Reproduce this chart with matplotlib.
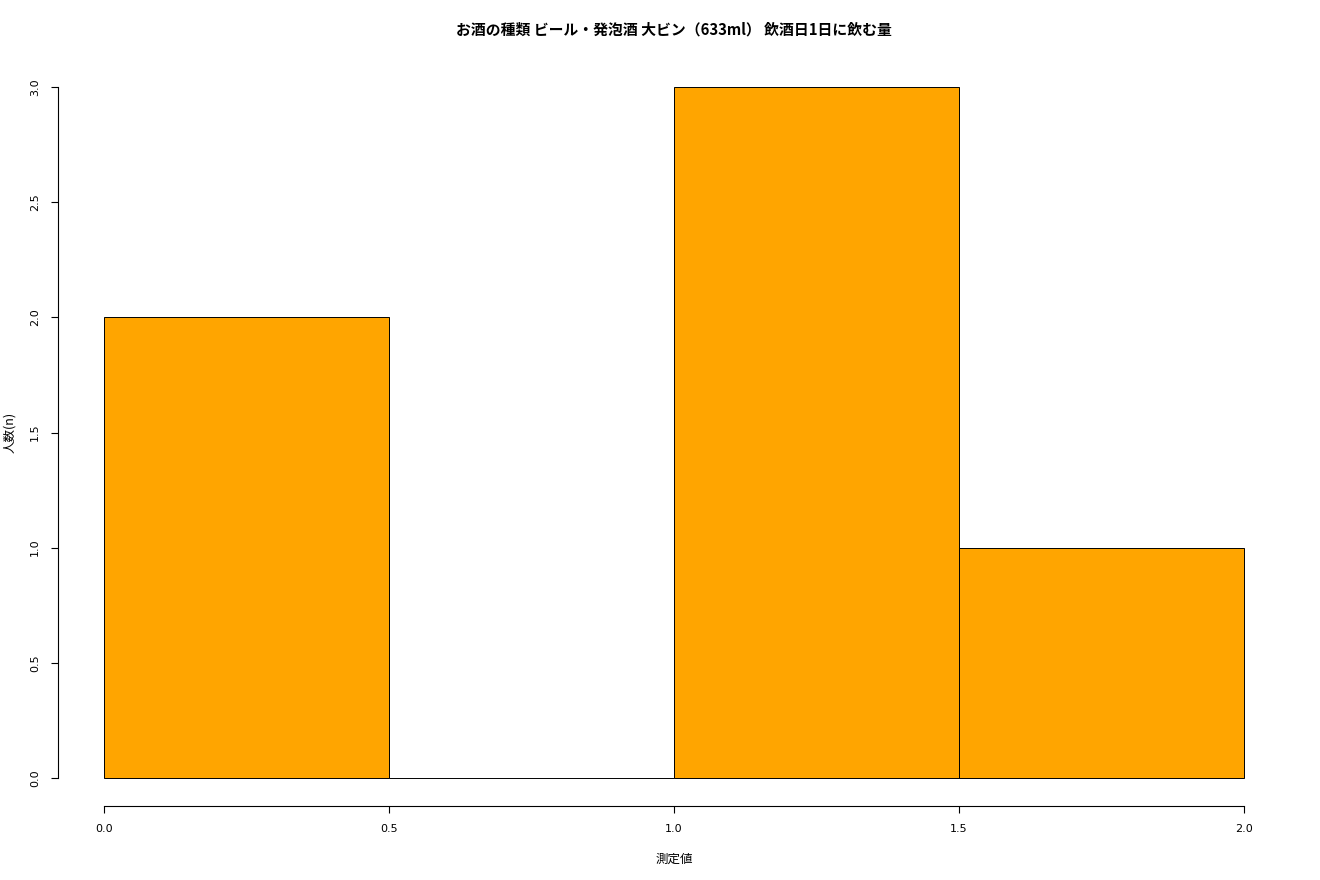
import matplotlib
matplotlib.use("Agg")
import matplotlib.pyplot as plt

plt.rcParams['font.family'] = ['Noto Sans CJK JP', 'DejaVu Sans']

# histogram bins and counts
bin_edges = [0.0, 0.5, 1.0, 1.5, 2.0]
counts = [2, 0, 3, 1]
x_ticks = [0.0, 0.5, 1.0, 1.5, 2.0]
y_ticks = [0.0, 0.5, 1.0, 1.5, 2.0, 2.5, 3.0]

title = "お酒の種類 ビール・発泡酒 大ビン（633ml） 飲酒日1日に飲む量"
xlabel = "測定値"
ylabel = "人数(n)"

fig = plt.figure(figsize=(13.2, 8.8), dpi=100)
ax = fig.add_axes([0.0442, 0.0845, 0.9328, 0.848])

widths = [bin_edges[i + 1] - bin_edges[i] for i in range(len(counts))]
ax.bar(bin_edges[:-1], counts, width=widths, align="edge",
       color="#FFA500", edgecolor="black", linewidth=0.7)

ax.set_xlim(-0.08, 2.08)
ax.set_ylim(-0.12, 3.12)

for s in ["top", "right"]:
    ax.spines[s].set_visible(False)
ax.spines["left"].set_bounds(0, 3)
ax.spines["bottom"].set_bounds(0, 2)
ax.spines["left"].set_linewidth(0.8)
ax.spines["bottom"].set_linewidth(0.8)

ax.set_xticks(x_ticks)
ax.set_xticklabels([f"{v:.1f}" for v in x_ticks], fontsize=8, family="DejaVu Sans")
ax.set_yticks(y_ticks)
ax.set_yticklabels([f"{v:.1f}" for v in y_ticks], fontsize=8, rotation=90,
                   va="center", family="DejaVu Sans")
ax.tick_params(direction="out", length=5, width=0.8, pad=8)

ax.set_xlabel(xlabel, fontsize=9, labelpad=14)
ax.set_ylabel(ylabel, fontsize=9, labelpad=10)
# title centred over the plot region, as R does
fig.text(0.5106, 0.966, title, fontsize=10.7, fontweight="bold",
         ha="center", va="center")

fig.savefig("out.png", dpi=100)
